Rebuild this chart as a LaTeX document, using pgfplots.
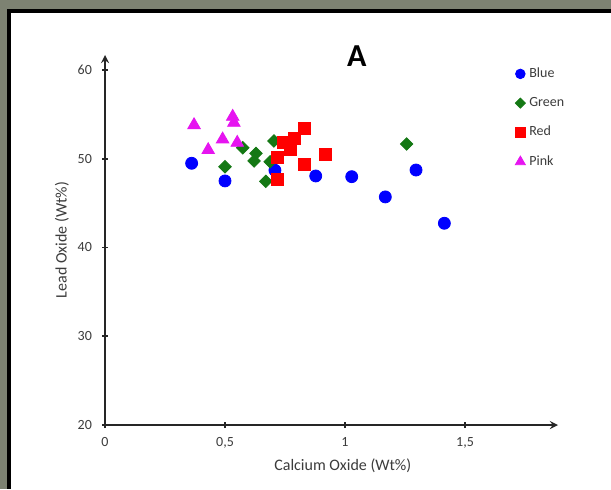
\documentclass[border=0pt]{standalone}
\usepackage{pgfplots}
\pgfplotsset{compat=1.18}
\usepackage{fontspec}
\setmainfont{Carlito}
\definecolor{bgc}{RGB}{125,130,114}
\definecolor{myblue}{RGB}{0,0,255}
\definecolor{mygreen}{RGB}{20,120,20}
\definecolor{myred}{RGB}{255,0,0}
\definecolor{mypink}{RGB}{230,20,240}
\definecolor{txt}{RGB}{60,60,60}
\begin{document}
\begin{tikzpicture}
\fill[bgc] (0,0) rectangle (305.5pt,244.5pt);
\fill[black] (3.5pt,0) rectangle (305.5pt,240pt);
\fill[white] (5.5pt,0) rectangle (305.5pt,238pt);
\begin{axis}[
  at={(52.5pt,32pt)}, anchor=south west,
  scale only axis, width=226.5pt, height=185pt,
  xmin=0, xmax=1.8875, ymin=20, ymax=61.69,
  axis lines=left,
  axis line style={line width=0.8pt, black!85, -stealth},
  xtick={0,0.5,1,1.5}, xticklabels={0,{0,5},1,{1,5}},
  ytick={20,30,40,50,60}, yticklabels={20,30,40,50,60},
  tick align=center, major tick length=3pt,
  tick style={line width=0.8pt, black!85},
  ticklabel style={font=\fontsize{7}{8}\selectfont, text=txt},
  xticklabel style={yshift=-1pt},
  yticklabel style={xshift=-1.5pt},
  xlabel={Calcium Oxide (Wt\%)}, ylabel={Lead Oxide (Wt\%)},
  label style={font=\fontsize{8}{9}\selectfont, text=txt},
  xlabel style={at={(axis description cs:0.525,0)}, anchor=center, yshift=-20.5pt},
  ylabel style={at={(axis description cs:0,0.5)}, anchor=center, yshift=21.5pt},
  clip=false,
  legend style={at={(axis description cs:0.905,0.978)}, anchor=north west,
    draw=none, fill=none, font=\fontsize{7}{8}\selectfont, text=txt,
    row sep=4.4pt, inner sep=0pt},
  legend cell align=left,
  legend image code/.code={\draw[#1, /tikz/every mark/.append style={scale=0.8}] plot coordinates {(0.15cm,0cm)};},
]
\addplot[only marks, mark=*, mark size=3pt, color=myblue] coordinates {
(0.361,49.49) (0.5,47.5) (0.708,48.7) (0.878,48.06) (1.028,47.98) (1.168,45.7) (1.296,48.73) (1.414,42.73)};
\addlegendentry{Blue}
\addplot[only marks, mark=square*, mark size=2.2pt, mark options={rotate=45}, color=mygreen] coordinates {
(0.574,51.24) (0.5,49.1) (0.629,50.6) (0.621,49.75) (0.688,49.67) (0.670,47.46) (0.704,52.0) (1.257,51.66)};
\addlegendentry{Green}
\addplot[only marks, mark=square*, mark size=3pt, color=myred] coordinates {
(0.830,53.43) (0.788,52.30) (0.743,51.81) (0.771,51.06) (0.720,50.12) (0.920,50.5) (0.830,49.41) (0.720,47.68)};
\addlegendentry{Red}
\addplot[only marks, mark=triangle*, mark size=3.6pt, color=mypink] coordinates {
(0.371,53.8) (0.532,54.74) (0.537,54.06) (0.490,52.19) (0.430,50.99) (0.551,51.81)};
\addlegendentry{Pink}
\node[font=\bfseries\fontsize{16}{18}\selectfont] at (axis description cs:0.556,0.997) {A};
\end{axis}
\pgfresetboundingbox
\path (0,0) rectangle (305.5pt,244.5pt);
\end{tikzpicture}
\end{document}
